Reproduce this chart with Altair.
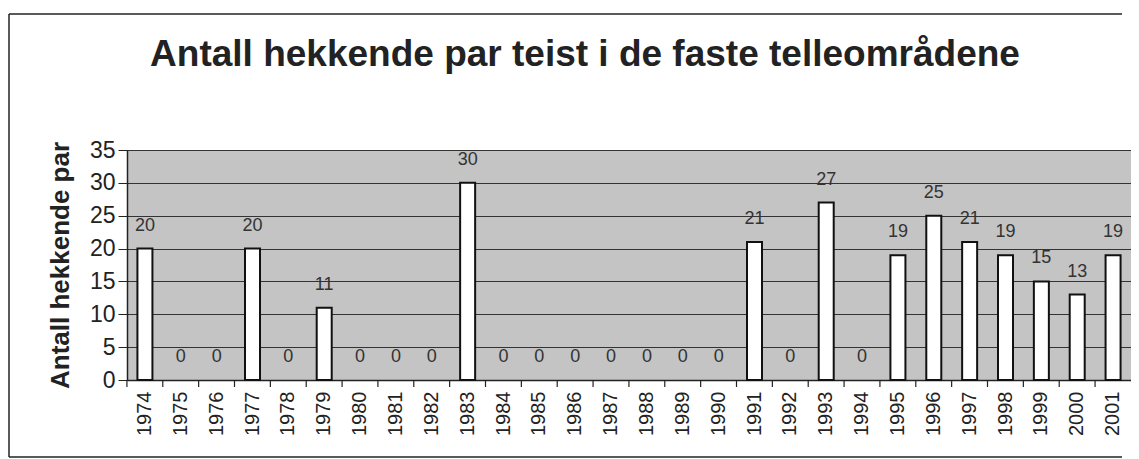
import altair as alt
import pandas as pd

years = [str(y) for y in range(1974, 2002)]
values = [20, 0, 0, 20, 0, 11, 0, 0, 0, 30, 0, 0, 0, 0, 0, 0, 0, 21, 0, 27, 0, 19, 25, 21, 19, 15, 13, 19]
title_text = "Antall hekkende par teist i de faste  telleområdene"
y_title = "Antall hekkende par"
y_ticks = [0, 5, 10, 15, 20, 25, 30, 35]

df = pd.DataFrame({"year": years, "value": values})
FONT = "Liberation Sans"

x_enc = alt.X("year:O", sort=years,
              scale=alt.Scale(paddingInner=0, paddingOuter=0),
              axis=alt.Axis(title=None, labelAngle=270, labelFontSize=20, labelFont=FONT,
                            labelColor="#222", ticks=False, labelPadding=11,
                            domainColor="#222", domainWidth=1.5, labelAlign="right",
                            labelBaseline="middle"))
y_enc = alt.Y("value:Q", scale=alt.Scale(domain=[0, 35], nice=False),
              axis=alt.Axis(values=y_ticks, title=y_title, titleFontSize=26, titleFont=FONT,
                            titleFontWeight="bold", titleColor="#222", titleAngle=270,
                            titleX=-67, titleY=115, titleAlign="center", titleBaseline="middle",
                            labelFontSize=23, labelFont=FONT, labelColor="#222", labelPadding=3,
                            labelOverlap=False, tickCount=8,
                            tickSize=9, tickColor="#222", domainColor="#222", domainWidth=1.5,
                            grid=True, gridColor="#333", gridWidth=1))

base = alt.Chart(df)

bars = base.mark_bar(width=15, fill="white", stroke="#111", strokeWidth=2).encode(
    x=x_enc, y=y_enc).transform_filter("datum.value > 0")

labels = base.mark_text(dy=-23, fontSize=18, font=FONT, color="#333", baseline="middle").encode(
    x=x_enc, y=y_enc, text="value:Q")

xticks = base.mark_rule(color="#222", strokeWidth=1.2, xOffset=-18).encode(
    x=x_enc, y=alt.value(230), y2=alt.value(237))

one = alt.Data(values=[{"a": 1}])
last_tick = alt.Chart(one).mark_rule(color="#222", strokeWidth=1.2).encode(
    x=alt.value(1007), y=alt.value(230), y2=alt.value(237))

frame_left = alt.Chart(one).mark_rule(color="#222", strokeWidth=1.5).encode(
    x=alt.value(-118), y=alt.value(-136), y2=alt.value(307))
frame_top = alt.Chart(one).mark_rule(color="#222", strokeWidth=1.5).encode(
    x=alt.value(-118), x2=alt.value(995), y=alt.value(-136))
frame_bottom = alt.Chart(one).mark_rule(color="#222", strokeWidth=1.5).encode(
    x=alt.value(-118), x2=alt.value(995), y=alt.value(307))

title = alt.Chart(one).mark_text(fontSize=37, font=FONT, fontWeight="bold", color="#222",
                                 align="center", baseline="middle").encode(
    x=alt.value(458), y=alt.value(-95), text=alt.value(title_text))

chart = alt.layer(bars, labels, xticks, last_tick, frame_left, frame_top, frame_bottom, title).properties(
    width=1004, height=230,
    autosize=alt.AutoSizeParams(type="none"),
    padding={"left": 119, "top": 142, "right": 0, "bottom": 78},
).configure(background="white").configure_view(fill="#c4c4c4", stroke="#333", strokeWidth=1)

chart.save("out.html", embed_options={"renderer": "svg", "actions": False})
